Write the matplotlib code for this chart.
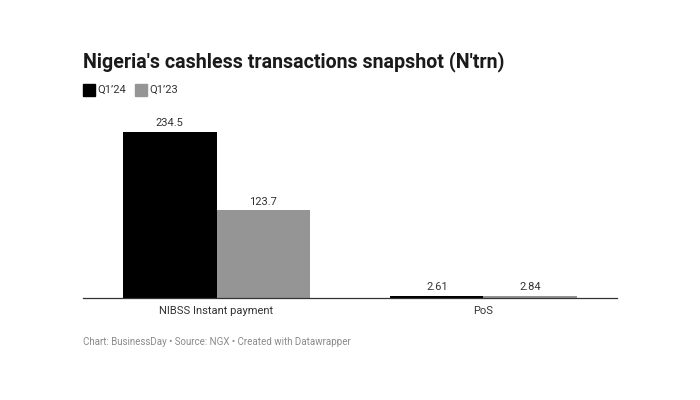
import matplotlib.pyplot as plt
import numpy as np

categories = ["NIBSS Instant payment", "PoS"]
series_names = ["Q1\u201924", "Q1\u201923"]
q1_24 = [234.5, 2.61]
q1_23 = [123.7, 2.84]
colors = ["#000000", "#959595"]

plt.rcParams["font.family"] = ["Roboto", "DejaVu Sans"]

fig = plt.figure(figsize=(7, 4), dpi=100)
ax = fig.add_axes([83 / 700, 102 / 400, 534 / 700, 188 / 400])

x = np.arange(len(categories))
w = 0.35
for i, (vals, c) in enumerate(zip([q1_24, q1_23], colors)):
    pos = x - w / 2 + i * w
    ax.bar(pos, vals, width=w, color=c, linewidth=0)
    for p, v in zip(pos, vals):
        ax.text(p, max(v, 4) + 5, f"{v:g}", ha="center", va="bottom", fontsize=8, color="#333333")

ax.set_xlim(-0.5, 1.5)
ax.set_ylim(0, 265.6)
ax.set_xticks(x)
ax.set_xticklabels(categories, fontsize=8, color="#333333")
ax.tick_params(axis="x", length=0, pad=6)
ax.set_yticks([])
for s in ["top", "right", "left"]:
    ax.spines[s].set_visible(False)
ax.spines["bottom"].set_color("#333333")
ax.spines["bottom"].set_linewidth(0.9)

fig.text(83 / 700, 1 - 62 / 400, "Nigeria's cashless transactions snapshot (N'trn)",
         fontsize=14.1, fontweight="bold", color="#1a1a1a", va="center", ha="left")

# legend
lx = 83 / 700
for name, c in zip(series_names, colors):
    fig.patches.append(plt.Rectangle((lx, 1 - 96 / 400), 12 / 700, 12 / 400,
                                     transform=fig.transFigure, color=c, figure=fig))
    fig.text(lx + 14 / 700, 1 - 90 / 400, name, fontsize=8, color="#333333",
             va="center", ha="left")
    lx += 52 / 700

fig.text(83 / 700, 1 - 342 / 400, "Chart: BusinessDay \u2022 Source: NGX \u2022 Created with Datawrapper",
         fontsize=7, color="#8a8a8a", va="center", ha="left")

fig.savefig("out.png", dpi=100)
